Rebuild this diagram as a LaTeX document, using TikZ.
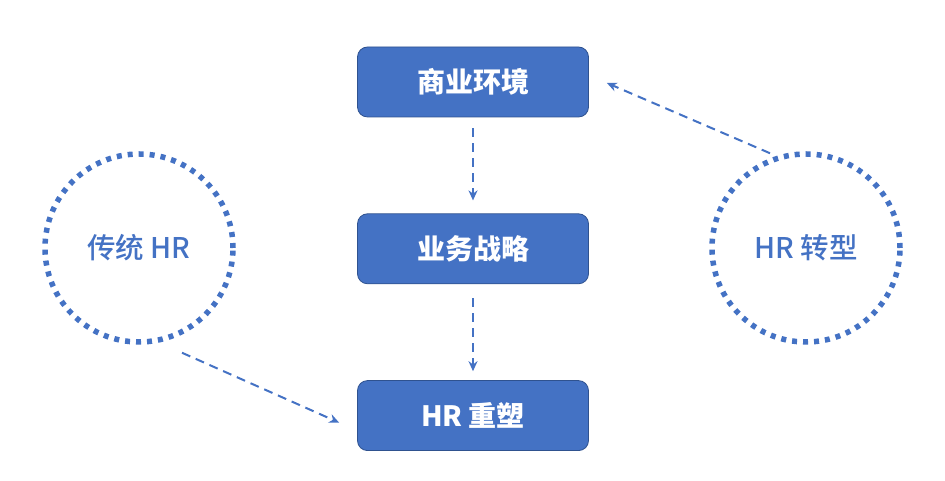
\documentclass[tikz,border=0pt]{standalone}
\usepackage{fontspec}
\newfontfamily\cjk{Noto Sans CJK SC}
\newfontfamily\cjkmed[UprightFont=* Medium]{Noto Sans CJK SC}
\usetikzlibrary{arrows.meta,positioning}
\definecolor{hrblue}{HTML}{4472C4}
\definecolor{hrdark}{HTML}{2F528F}
\begin{document}
\begin{tikzpicture}[x=1pt,y=1pt, line join=round,
	stepbox/.style={draw=hrdark, line width=0.8pt, fill=hrblue, rounded corners=10pt,
		minimum width=231pt, minimum height=70pt, text=white,
		font=\cjk\bfseries\fontsize{28}{32}\selectfont},
	ring/.style={circle, draw=hrblue, line width=5.5pt, dash pattern=on 5pt off 6pt,
		minimum size=188pt, inner sep=0pt, text=hrblue,
		font=\cjkmed\fontsize{28.5}{32}\selectfont},
	flow/.style={draw=hrblue, line width=2pt, dash pattern=on 9pt off 6pt,
		-{Stealth[length=10pt,width=9pt]}}]
	\useasboundingbox (0,0) rectangle (945,481);
	% ba hộp giữa
	\node[stepbox] (biz) at (473,399) {商业环境};
	\node[stepbox, below=96pt of biz] (strat) {业务战略};
	\node[stepbox, below=96pt of strat] (hr) {HR 重塑};
	% hai vòng tròn
	\node[ring] (trad) at (139,233) {传统 HR};
	\node[ring] (ist) at (806,233) {HR 转型};
	\draw[flow, shorten <=11pt, shorten >=13pt] (biz) -- (strat);
	\draw[flow, shorten <=14pt, shorten >=9pt] (strat) -- (hr);
	\draw[flow] ([xshift=43pt,yshift=-8pt]trad.south) -- ([xshift=-18pt,yshift=-7pt]hr.west);
	\draw[flow] ([xshift=-36pt,yshift=-2pt]ist.north) -- ([xshift=18pt,yshift=-1pt]biz.east);
\end{tikzpicture}
\end{document}
